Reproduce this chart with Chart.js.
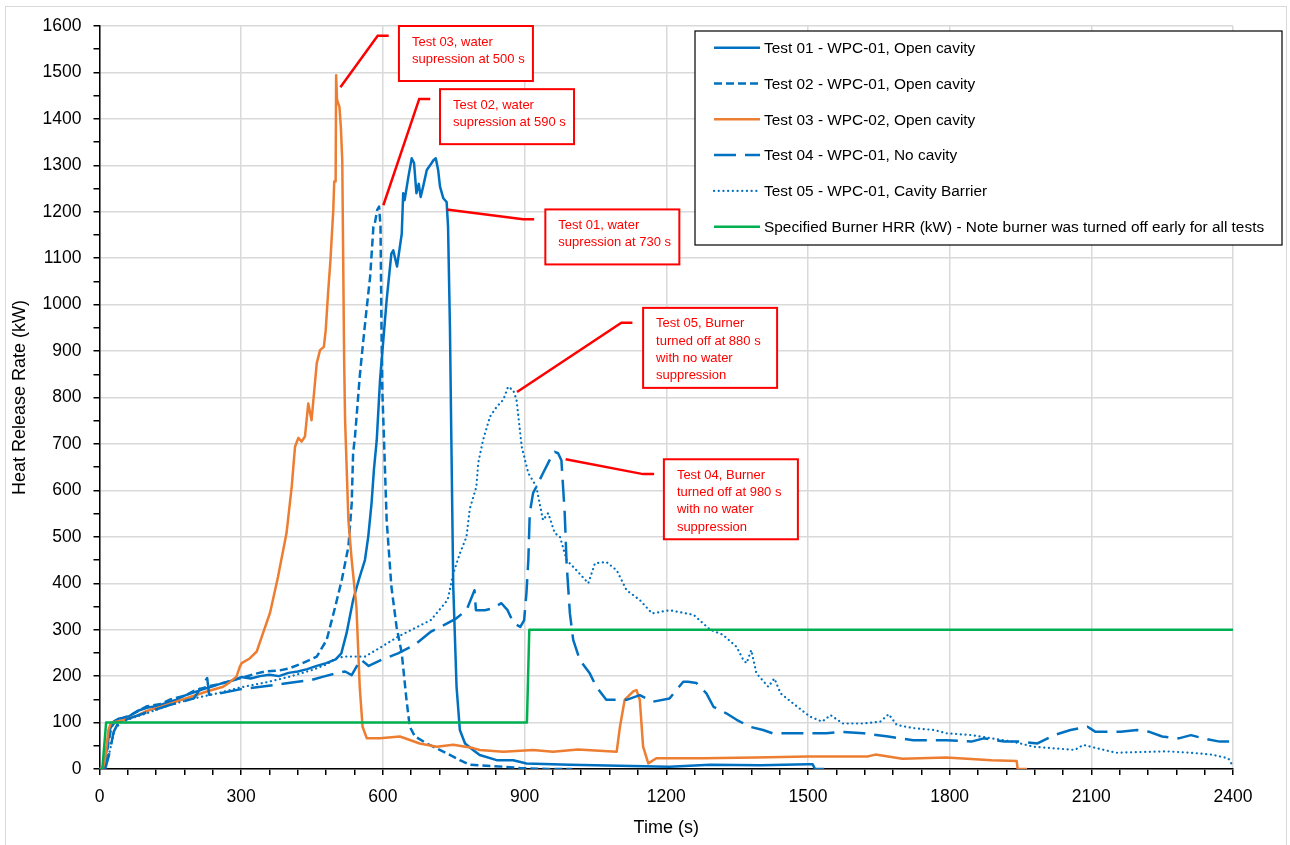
<!DOCTYPE html>
<html>
<head>
<meta charset="utf-8">
<script src="https://cdn.jsdelivr.net/npm/chart.js@4.4.1/dist/chart.umd.min.js"></script>
<style>
  html, body { margin: 0; padding: 0; background: #fff; }
  #wrap { position: relative; width: 1290px; height: 845px; overflow: hidden; }
  #frame { position: absolute; left: 5px; top: 6px; width: 1282px; height: 870px; border: 1.5px solid #d9d9d9; box-sizing: border-box; pointer-events: none; }
  canvas { position: absolute; left: 0; top: 0; }
</style>
</head>
<body>
<div id="wrap">
  <div id="frame"></div>
  <canvas id="hrrChart" width="1290" height="845"></canvas>
</div>
<script>
// ── 데이터
const xTicks = [0, 300, 600, 900, 1200, 1500, 1800, 2100, 2400];
const yTicks = [0, 100, 200, 300, 400, 500, 600, 700, 800, 900, 1000, 1100, 1200, 1300, 1400, 1500, 1600];

const seriesNames = [
  'Test 01 - WPC-01, Open cavity',
  'Test 02 - WPC-01, Open cavity',
  'Test 03 - WPC-02, Open cavity',
  'Test 04 - WPC-01, No cavity',
  'Test 05 - WPC-01, Cavity Barrier',
  'Specified Burner HRR (kW) - Note burner was turned off early for all tests',
];

// Test 01
const t01 = [0, 8, 15, 22, 30, 40, 60, 80, 100, 120, 140, 160, 180, 200, 220, 240, 260, 280, 300, 320, 340, 360, 380, 400, 420, 440, 460, 480, 500, 512, 523, 537, 551, 562, 569, 576, 581, 587, 594, 601, 608, 618, 622, 630, 640, 643, 646, 654, 661, 666, 671, 676, 680, 685, 693, 700, 707, 712, 717, 721, 728, 735, 738, 742, 745, 749, 756, 763, 774, 791, 805, 841, 876, 904, 996, 1100, 1207, 1293, 1400, 1500, 1510, 1515, 1534];
const q01 = [0, 0, 40, 85, 102, 108, 112, 125, 132, 135, 142, 148, 158, 165, 172, 178, 185, 190, 198, 195, 200, 203, 200, 207, 210, 215, 222, 228, 236, 249, 292, 364, 414, 450, 500, 572, 644, 708, 838, 924, 1010, 1110, 1117, 1082, 1153, 1240, 1225, 1275, 1315, 1305, 1240, 1260, 1232, 1253, 1290, 1300, 1311, 1315, 1290, 1254, 1229, 1221, 1168, 952, 708, 393, 177, 84, 55, 41, 30, 19, 19, 12, 9, 7, 5, 9, 8, 10, 10, 0, 0];

// Test 02
const t02 = [0, 10, 18, 25, 35, 50, 70, 100, 130, 150, 180, 200, 230, 250, 280, 300, 330, 350, 380, 400, 430, 460, 481, 499, 513, 527, 534, 537, 541, 551, 558, 566, 573, 580, 583, 588, 592, 595, 597, 599, 601, 608, 618, 629, 640, 650, 657, 668, 693, 735, 763, 784, 855, 890, 950, 1000];
const q02 = [0, 0, 50, 90, 105, 110, 118, 135, 140, 150, 158, 168, 178, 182, 190, 196, 205, 210, 212, 216, 228, 242, 278, 349, 407, 479, 572, 680, 716, 845, 917, 995, 1060, 1168, 1175, 1204, 1211, 1168, 952, 809, 751, 536, 393, 306, 249, 149, 91, 70, 55, 34, 19, 9, 5, 2, 0, 0];

// Test 03
const t03 = [0, 10, 19, 24, 50, 80, 100, 121, 156, 192, 227, 262, 276, 290, 297, 301, 318, 333, 346, 361, 378, 396, 407, 414, 421, 428, 435, 442, 449, 460, 467, 475, 479, 484, 489, 495, 497, 500, 501, 503, 508, 511, 514, 516, 518, 520, 527, 534, 544, 551, 557, 566, 594, 636, 678, 714, 749, 791, 805, 855, 918, 960, 1013, 1095, 1102, 1112, 1130, 1137, 1144, 1151, 1162, 1179, 1278, 1389, 1500, 1626, 1643, 1700, 1793, 1889, 1942, 1944, 1964];
const q03 = [0, 5, 84, 99, 105, 115, 125, 131, 143, 155, 167, 177, 187, 199, 220, 228, 238, 253, 292, 336, 414, 508, 608, 694, 713, 705, 716, 787, 751, 874, 902, 909, 945, 1025, 1096, 1204, 1265, 1265, 1494, 1441, 1426, 1383, 1311, 1096, 880, 751, 536, 450, 349, 177, 91, 66, 66, 70, 55, 48, 52, 45, 41, 37, 41, 37, 42, 37, 91, 149, 167, 170, 149, 48, 12, 23, 23, 25, 27, 27, 31, 22, 25, 19, 17, 0, 0];

// Test 04
const t04 = [0, 12, 20, 30, 40, 60, 100, 150, 200, 228, 232, 250, 300, 350, 400, 450, 474, 500, 520, 534, 553, 570, 597, 632, 667, 702, 737, 755, 777, 794, 797, 816, 829, 851, 864, 877, 891, 899, 904, 908, 911, 918, 925, 939, 953, 964, 971, 978, 985, 989, 996, 1003, 1017, 1038, 1052, 1073, 1095, 1116, 1144, 1172, 1207, 1236, 1246, 1264, 1285, 1300, 1327, 1349, 1377, 1405, 1425, 1459, 1495, 1539, 1574, 1618, 1670, 1723, 1793, 1846, 1872, 1916, 1951, 1986, 2021, 2056, 2092, 2109, 2136, 2162, 2197, 2223, 2250, 2285, 2311, 2337, 2372, 2400];
const q04 = [0, 0, 30, 80, 100, 108, 122, 138, 152, 196, 160, 162, 172, 178, 185, 192, 199, 206, 210, 202, 236, 222, 235, 249, 267, 296, 314, 324, 342, 385, 342, 342, 345, 357, 342, 314, 306, 320, 379, 450, 551, 594, 608, 637, 665, 683, 680, 665, 551, 443, 335, 278, 235, 206, 177, 149, 149, 149, 159, 145, 152, 188, 188, 185, 163, 134, 120, 106, 91, 84, 77, 77, 77, 77, 80, 77, 70, 62, 62, 59, 66, 59, 59, 55, 73, 84, 91, 80, 80, 80, 84, 80, 70, 66, 73, 66, 59, 59];

// Test 05
const t05 = [0, 12, 22, 32, 45, 70, 100, 150, 200, 250, 300, 350, 400, 450, 480, 500, 518, 562, 597, 632, 667, 702, 737, 749, 763, 777, 784, 798, 802, 812, 827, 841, 855, 865, 876, 883, 894, 908, 925, 939, 950, 964, 975, 989, 1010, 1035, 1049, 1073, 1095, 1116, 1144, 1170, 1207, 1258, 1293, 1320, 1349, 1363, 1370, 1380, 1391, 1416, 1429, 1442, 1469, 1504, 1530, 1548, 1574, 1618, 1653, 1671, 1688, 1723, 1767, 1793, 1846, 1890, 1933, 1978, 2065, 2083, 2127, 2153, 2223, 2258, 2311, 2355, 2390, 2400];
const q05 = [0, 0, 40, 85, 100, 110, 120, 138, 152, 163, 176, 186, 198, 213, 225, 238, 242, 242, 263, 285, 303, 321, 364, 421, 464, 500, 560, 608, 660, 708, 759, 780, 795, 823, 816, 795, 694, 637, 608, 536, 551, 508, 500, 450, 428, 400, 443, 446, 428, 385, 364, 335, 342, 332, 300, 289, 263, 235, 228, 256, 206, 177, 195, 163, 141, 113, 102, 116, 98, 98, 102, 118, 95, 88, 84, 77, 73, 66, 59, 48, 41, 52, 41, 35, 37, 38, 35, 31, 23, 6];

// Burner
const tBurner = [0, 6, 14, 905, 910, 2400];
const qBurner = [0, 0, 100, 100, 300, 300];

// ── 주석 (콜아웃) : 데이터 좌표
const callouts = [
  { at: [510, 1468], elbow: [589, 1579], box: [634, 1600], w: 134, h: 55, lines: ['Test 03, water', 'supression at 500 s'] },
  { at: [601, 1214], elbow: [677, 1443], box: [721, 1464], w: 134, h: 55, lines: ['Test 02, water', 'supression at 590 s'] },
  { at: [735, 1205], elbow: [897, 1184], box: [944, 1205], w: 134, h: 55, lines: ['Test 01, water', 'supression at 730 s'] },
  { at: [884, 812], elbow: [1105, 961], box: [1151, 993], w: 134, h: 80, lines: ['Test 05, Burner', 'turned off at 880 s', 'with no water', 'suppression'] },
  { at: [987, 667], elbow: [1151, 635], box: [1195, 667], w: 134, h: 80, lines: ['Test 04, Burner', 'turned off at 980 s', 'with no water', 'suppression'] },
];

const BLUE = '#0070c0';
const ORANGE = '#ed7d31';
const GREEN = '#00b050';
const FONT = '"Liberation Sans", Arial, sans-serif';

function pts(t, q) { return t.map((x, i) => ({ x, y: q[i] })); }

const datasets = [
  { label: seriesNames[0], data: pts(t01, q01), borderColor: BLUE, borderWidth: 2.5, borderDash: [] },
  { label: seriesNames[1], data: pts(t02, q02), borderColor: BLUE, borderWidth: 2.5, borderDash: [8, 4] },
  { label: seriesNames[2], data: pts(t03, q03), borderColor: ORANGE, borderWidth: 2.5, borderDash: [] },
  { label: seriesNames[3], data: pts(t04, q04), borderColor: BLUE, borderWidth: 2.5, borderDash: [22, 9] },
  { label: seriesNames[4], data: pts(t05, q05), borderColor: BLUE, borderWidth: 2.2, borderDash: [0.1, 4.6], borderCapStyle: 'round' },
  { label: seriesNames[5], data: pts(tBurner, qBurner), borderColor: GREEN, borderWidth: 2.5, borderDash: [] },
].map((d, i) => Object.assign({
  showLine: true, pointRadius: 0, pointHoverRadius: 0, tension: 0, fill: false, order: 6 - i,
  borderJoinStyle: 'round', borderCapStyle: d.borderCapStyle || 'butt',
}, d));

// ── 콜아웃 그리기
const calloutPlugin = {
  id: 'callouts',
  afterDatasetsDraw(chart) {
    const { ctx, scales: { x, y } } = chart;
    ctx.save();
    callouts.forEach(c => {
      const ax = x.getPixelForValue(c.at[0]), ay = y.getPixelForValue(c.at[1]);
      const ex = x.getPixelForValue(c.elbow[0]), ey = y.getPixelForValue(c.elbow[1]);
      const bx = x.getPixelForValue(c.box[0]), by = y.getPixelForValue(c.box[1]);
      ctx.strokeStyle = '#ff0000';
      ctx.lineWidth = 2.5;
      ctx.setLineDash([]);
      ctx.beginPath();
      ctx.moveTo(ax, ay);
      ctx.lineTo(ex, ey);
      ctx.lineTo(ex + 11, ey);
      ctx.stroke();
      ctx.fillStyle = '#fff';
      ctx.fillRect(bx, by, c.w, c.h);
      ctx.lineWidth = 2;
      ctx.strokeRect(bx, by, c.w, c.h);
      ctx.fillStyle = '#ff0000';
      ctx.font = '13px ' + FONT;
      ctx.textAlign = 'left';
      ctx.textBaseline = 'middle';
      c.lines.forEach((line, i) => ctx.fillText(line, bx + 13, by + 16 + i * 17.3));
    });
    ctx.restore();
  }
};

// ── 범례 (테두리 박스)
const legendPlugin = {
  id: 'boxLegend',
  afterDraw(chart) {
    const { ctx } = chart;
    const left = 695, top = 31, w = 587, h = 214, row0 = 47.7, step = 35.8;
    ctx.save();
    ctx.fillStyle = '#fff';
    ctx.fillRect(left, top, w, h);
    ctx.strokeStyle = '#000';
    ctx.lineWidth = 1.2;
    ctx.strokeRect(left, top, w, h);
    chart.data.datasets.forEach((ds, i) => {
      const cy = row0 + i * step;
      ctx.strokeStyle = ds.borderColor;
      ctx.lineWidth = ds.borderWidth;
      ctx.lineCap = ds.borderCapStyle;
      ctx.setLineDash(ds.borderDash);
      ctx.beginPath();
      ctx.moveTo(714, cy);
      ctx.lineTo(760, cy);
      ctx.stroke();
      ctx.setLineDash([]);
      ctx.fillStyle = '#000';
      ctx.font = '15.4px ' + FONT;
      ctx.textAlign = 'left';
      ctx.textBaseline = 'middle';
      ctx.fillText(ds.label, 764, cy + 1);
    });
    ctx.restore();
  }
};

const tickFont = { family: FONT, size: 17.5 };

new Chart(document.getElementById('hrrChart'), {
  type: 'scatter',
  data: { datasets },
  plugins: [calloutPlugin, legendPlugin],
  options: {
    responsive: false,
    animation: false,
    devicePixelRatio: 1,
    layout: { padding: { top: 26, right: 57, left: 0, bottom: 0 } },
    plugins: { legend: { display: false }, tooltip: { enabled: false } },
    scales: {
      x: {
        type: 'linear', min: 0, max: 2400,
        afterFit: s => { s.height = 76; },
        ticks: {
          stepSize: 60, autoSkip: false, maxRotation: 0, padding: 12, color: '#000', font: tickFont,
          callback: v => xTicks.includes(v) ? String(v) : '',
        },
        grid: {
          color: c => xTicks.includes(c.tick && c.tick.value) ? '#d9d9d9' : 'rgba(0,0,0,0)',
          lineWidth: 1.5, tickColor: '#000', tickLength: 6,
        },
        border: { color: '#000', width: 1.5 },
        title: { display: true, text: 'Time (s)', color: '#000', font: { family: FONT, size: 18 }, padding: { top: 0, bottom: 6 } },
      },
      y: {
        type: 'linear', min: 0, max: 1600,
        afterFit: s => { s.width = 99.5; },
        ticks: {
          stepSize: 50, autoSkip: false, padding: 12, color: '#000', font: tickFont,
          callback: v => yTicks.includes(v) ? String(v) : '',
        },
        grid: {
          color: c => yTicks.includes(c.tick && c.tick.value) ? '#d9d9d9' : 'rgba(0,0,0,0)',
          lineWidth: 1.5, tickColor: '#000', tickLength: 6,
        },
        border: { color: '#000', width: 1.5 },
        title: { display: true, text: 'Heat Release Rate (kW)', color: '#000', font: { family: FONT, size: 18 }, padding: { top: 9, bottom: 0 } },
      }
    }
  }
});
</script>
</body>
</html>
